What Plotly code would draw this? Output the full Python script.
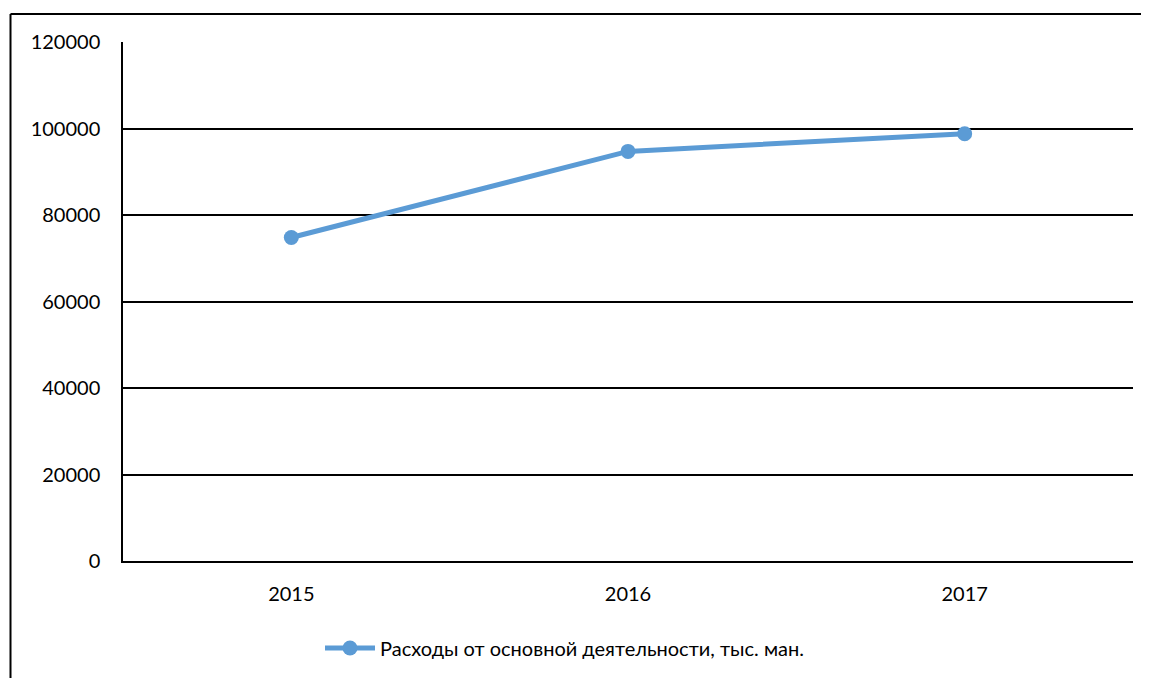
import plotly.graph_objects as go

years = ["2015", "2016", "2017"]
expenses = [74800, 94700, 98800]
series_name = "Расходы от основной деятельности, тыс. ман."
y_ticks = [0, 20000, 40000, 60000, 80000, 100000, 120000]

OFF = 8  # default body margin of the page
W, H = 1149 - OFF, 678 - OFF
# target plot area in page pixels
PL, PR, PT, PB = 123, 1133, 42, 562
L, T = PL - OFF, PT - OFF
R = W - (PR - OFF)
B = H - (PB - OFF)
pw, ph = PR - PL, PB - PT

def px(x):  # page pixel -> paper x
    return (x - PL) / pw

def py(y):  # page pixel -> paper y
    return (PB - y) / ph

fig = go.Figure()
fig.add_trace(go.Scatter(
    x=years, y=expenses, name=series_name, mode="lines+markers",
    line=dict(color="#5B9BD5", width=5),
    marker=dict(color="#5B9BD5", size=15),
))

font_family = "Lato, Open Sans, sans-serif"
fig.update_layout(
    width=W, height=H,
    margin=dict(l=L, r=R, t=T, b=B),
    paper_bgcolor="white", plot_bgcolor="white",
    font=dict(family=font_family, size=20, color="black"),
    showlegend=True,
    legend=dict(orientation="h", x=px(320), xanchor="left", y=py(648), yanchor="middle",
                font=dict(size=20), itemwidth=50),
    xaxis=dict(type="category", range=[-0.5, 2.5], showgrid=False,
               showline=True, linecolor="black", linewidth=1.5,
               ticks="", ticklabelstandoff=14, tickfont=dict(size=20)),
    yaxis=dict(range=[0, 120000], tickvals=y_ticks, showgrid=True,
               gridcolor="black", gridwidth=1.5, showline=True,
               linecolor="black", linewidth=1.5, zeroline=False,
               ticks="", ticklabelstandoff=17, tickformat="d",
               tickfont=dict(size=20)),
    shapes=[
        dict(type="line", xref="paper", yref="paper",
             x0=px(10.5), x1=px(1160), y0=py(14), y1=py(14),
             line=dict(color="black", width=2)),
        dict(type="line", xref="paper", yref="paper",
             x0=px(10.5), x1=px(10.5), y0=py(14), y1=py(700),
             line=dict(color="black", width=2)),
    ],
)

fig.write_html("out.html")
